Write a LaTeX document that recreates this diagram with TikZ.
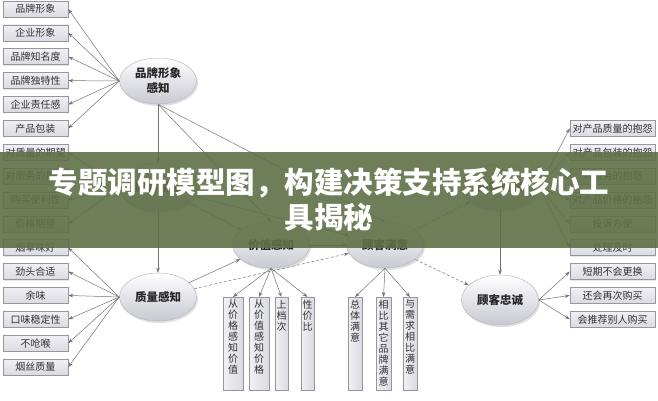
\documentclass[tikz,border=0pt]{standalone}
\usepackage{fontspec}
\setmainfont{Noto Sans CJK SC}
\usetikzlibrary{arrows.meta,shadows,shapes.geometric}
\definecolor{edgec}{RGB}{115,115,115}
\definecolor{boxfill}{RGB}{240,240,245}
\definecolor{boxfillb}{RGB}{218,218,226}
\definecolor{boxline}{RGB}{150,150,156}
\definecolor{boxtext}{RGB}{50,50,50}
\definecolor{ellline}{RGB}{185,185,195}
\definecolor{ellbot}{RGB}{200,200,210}
\definecolor{bandc}{RGB}{95,112,70}
\tikzset{
  lbox/.style={draw=boxline, line width=0.5pt, top color=boxfill, bottom color=boxfillb,
    minimum width=65pt, minimum height=16pt, inner sep=0pt,
    font=\fontsize{10}{12}\selectfont, text=boxtext,
    drop shadow={shadow xshift=1pt, shadow yshift=-1pt, opacity=0.2}},
  rbox/.style={lbox, minimum width=85pt},
  vbox/.style={draw=boxline, line width=0.5pt, left color=boxfill, right color=boxfillb,
    anchor=north, inner xsep=0pt, inner ysep=2.5pt,
    font=\fontsize{10}{11}\selectfont, text=boxtext,
    drop shadow={shadow xshift=1pt, shadow yshift=-1pt, opacity=0.2}},
  ell/.style={ellipse, draw=ellline, line width=0.5pt, top color=white, bottom color=ellbot,
    minimum width=77pt, minimum height=46pt, inner sep=0pt,
    font=\bfseries\fontsize{11.5}{15}\selectfont, text=black!85, align=center,
    drop shadow={shadow xshift=1.5pt, shadow yshift=-2pt, opacity=0.25}},
  arr/.style={draw=edgec, line width=0.5pt, -{Stealth[length=5pt, width=3.5pt]}},
  darr/.style={arr, dash pattern=on 3pt off 2pt},
  titletext/.style={text=white, font=\bfseries\fontsize{29.5}{35}\selectfont, align=center},
}
\newcommand{\vtx}[2]{\parbox[c][88pt][t]{#1}{\centering #2}}
\begin{document}
\begin{tikzpicture}[x=1pt, y=-1pt]
\useasboundingbox (0,0) rectangle (658,400);
\fill[white] (0,0) rectangle (658,400);

% left column
\foreach \t [count=\i from 0] in {品牌形象,企业形象,品牌知名度,品牌独特性,企业责任感,产品包装,对质量的期望,对服务的期望,购买便利性,价格期望,烟草味好,劲头合适,余味,口味稳定性,不呛喉,烟丝质量}
  \node[lbox] (L\i) at (35.5,{9+23.87*\i}) {\t};

% right column
\foreach \t [count=\i from 0] in {对产品质量的抱怨,对产品包装的抱怨,对服务的抱怨,对产品价格的抱怨,投诉方便,处理及时,短期不会更换,还会再次购买,会推荐别人购买}
  \node[rbox] (R\i) at (612.5,{9+23.87*(\i+5)}) {\t};

% ellipses
\node[ell] (brand) at (158,81) {品牌形象\\感知};
\node[ell, minimum height=48pt] (expect) at (158,187) {顾客期望};
\node[ell, minimum height=48pt] (quality) at (158,297) {质量感知};
\node[ell] (value) at (271,245) {价值感知};
\node[ell] (satis) at (385,245) {顾客满意};
\node[ell, minimum width=78pt] (complain) at (500,187) {顾客抱怨};
\node[ell, minimum height=50pt] (loyal) at (500,300) {顾客忠诚};

% vertical boxes
\node[vbox] (V1) at (233,297) {\vtx{20pt}{从\\价\\格\\感\\知\\价\\值}};
\node[vbox] (V2) at (259,297) {\vtx{20pt}{从\\价\\值\\感\\知\\价\\格}};
\node[vbox] (V3) at (281.5,297) {\vtx{13pt}{上\\档\\次}};
\node[vbox] (V4) at (307.5,297) {\vtx{13pt}{性\\价\\比}};
\node[vbox] (S1) at (355,297) {\vtx{14pt}{总\\体\\满\\意}};
\node[vbox] (S2) at (383.5,297) {\vtx{15pt}{相\\比\\其\\它\\品\\牌\\满\\意}};
\node[vbox] (S3) at (410,297) {\vtx{14pt}{与\\需\\求\\相\\比\\满\\意}};

% box connectors
\foreach \i in {0,...,5} \draw[arr] (brand.west) -- (L\i.east);
\foreach \i in {6,...,9} \draw[arr] (expect.west) -- (L\i.east);
\foreach \i in {10,...,15} \draw[arr] (quality.west) -- (L\i.east);
\foreach \i in {0,...,5} \draw[arr] (complain.east) -- (R\i.west);
\foreach \i in {6,...,8} \draw[arr] (loyal.east) -- (R\i.west);
\foreach \n in {V1,V2,V3,V4} \draw[arr] (value.south) -- (\n.north);
\foreach \n in {S1,S2,S3} \draw[arr] (satis.south) -- (\n.north);

% model connectors
\draw[arr] (brand) -- (expect);
\draw[arr] (expect) -- (quality);
\draw[arr] (brand.south) -- (value.north);
\draw[arr] (brand.south) -- (satis.north);
\draw[arr] (expect) -- (value);
\draw[arr] (expect) -- (satis);
\draw[arr] (quality) -- (value);
\draw[darr] (quality) -- (satis);
\draw[arr] (value) -- (satis);
\draw[darr] (satis) -- (complain);
\draw[darr] (satis) -- (loyal);
\draw[arr] (complain) -- (loyal);

% title band
\fill[bandc, opacity=0.9] (0,152) rectangle (658,248);
\node[titletext] (title) at (329,199.5) {专题调研模型图，构建决策支持系统核心工\\具揭秘};
\end{tikzpicture}
\end{document}
